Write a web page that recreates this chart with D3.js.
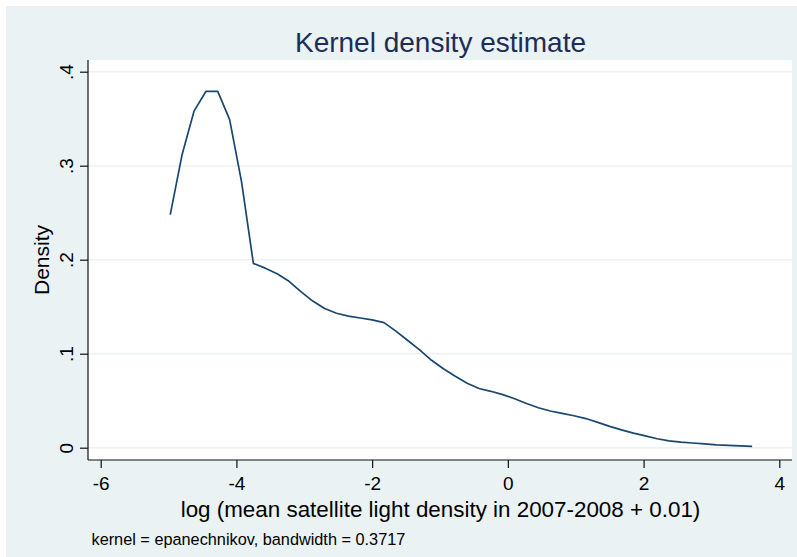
<!DOCTYPE html>
<html>
<head>
<meta charset="utf-8">
<script src="https://cdn.jsdelivr.net/npm/d3@7"></script>
<style>
  html, body { margin: 0; padding: 0; background: #ffffff; }
  svg { display: block; }
  text { font-family: "Liberation Sans", Arial, sans-serif; }
</style>
</head>
<body>
<svg id="chart" width="797" height="557"></svg>
<script>
// ---- data ----
const xValues = [
  -4.975, -4.800, -4.625, -4.450, -4.275, -4.100, -3.925, -3.750, -3.575, -3.400,
  -3.225, -3.050, -2.875, -2.700, -2.525, -2.350, -2.175, -2.000, -1.825, -1.650,
  -1.475, -1.300, -1.125, -0.950, -0.775, -0.600, -0.425, -0.250, -0.075, 0.100,
   0.275,  0.450,  0.625,  0.800,  0.975,  1.150,  1.325,  1.500,  1.675, 1.850,
   2.025,  2.200,  2.375,  2.550,  2.725,  2.900,  3.075,  3.250,  3.425, 3.600
];
const densityValues = [
  0.248, 0.312, 0.358, 0.379, 0.379, 0.349, 0.283, 0.196, 0.191, 0.185,
  0.177, 0.166, 0.156, 0.148, 0.143, 0.140, 0.138, 0.136, 0.133, 0.124,
  0.114, 0.104, 0.093, 0.084, 0.076, 0.0685, 0.063, 0.060, 0.0565, 0.052,
  0.047, 0.0425, 0.039, 0.0365, 0.034, 0.031, 0.027, 0.0227, 0.019, 0.0155,
  0.0125, 0.0095, 0.0073, 0.006, 0.005, 0.004, 0.0031, 0.0025, 0.0019, 0.0015
];
const xTicks = [-6, -4, -2, 0, 2, 4];
const xTickLabels = ["-6", "-4", "-2", "0", "2", "4"];
const yTicks = [0, 0.1, 0.2, 0.3, 0.4];
const yTickLabels = ["0", ".1", ".2", ".3", ".4"];
const titleText = "Kernel density estimate";
const xTitle = "log (mean satellite light density in 2007-2008 + 0.01)";
const yTitle = "Density";
const noteText = "kernel = epanechnikov, bandwidth = 0.3717";

// ---- layout ----
const svg = d3.select("#chart");
const bg = "#eaf2f3";
const plot = { left: 88, top: 60, right: 792, bottom: 460 };

svg.append("rect").attr("x", 6).attr("y", 6).attr("width", 791).attr("height", 551).attr("fill", bg);
svg.append("rect").attr("x", plot.left).attr("y", plot.top)
  .attr("width", plot.right - plot.left).attr("height", plot.bottom - plot.top).attr("fill", "#ffffff");

const x = d3.scaleLinear().domain([-6, 4]).range([100.7, 779.3]);
const y = d3.scaleLinear().domain([0, 0.4]).range([447.7, 71.7]);

// gridlines
svg.append("g").selectAll("line").data(yTicks).join("line")
  .attr("x1", plot.left).attr("x2", plot.right)
  .attr("y1", d => y(d)).attr("y2", d => y(d))
  .attr("stroke", bg).attr("stroke-width", 1.6);

// curve
const pts = xValues.map((v, i) => [v, densityValues[i]]);
svg.append("path").datum(pts)
  .attr("d", d3.line().x(d => x(d[0])).y(d => y(d[1])))
  .attr("fill", "none").attr("stroke", "#1a476f").attr("stroke-width", 1.7)
  .attr("stroke-linejoin", "round");

// y axis
const yAxis = d3.axisLeft(y).tickValues(yTicks).tickFormat((d, i) => yTickLabels[i]).tickSize(8).tickPadding(0);
const gy = svg.append("g").attr("transform", `translate(${plot.left},0)`).call(yAxis);
gy.select(".domain").attr("d", `M0,${plot.top}V${plot.bottom}`).attr("stroke", "#111").attr("stroke-width", 1.2);
gy.selectAll(".tick line").attr("stroke", "#111").attr("stroke-width", 1.2);
gy.selectAll(".tick text")
  .attr("x", null).attr("dy", null)
  .attr("transform", "translate(-15.5,0) rotate(-90)")
  .attr("text-anchor", "middle")
  .attr("font-size", 19).attr("fill", "#000")
  .attr("font-family", "'Liberation Sans', Arial, sans-serif");

// x axis
const xAxis = d3.axisBottom(x).tickValues(xTicks).tickFormat((d, i) => xTickLabels[i]).tickSize(8).tickPadding(0);
const gx = svg.append("g").attr("transform", `translate(0,${plot.bottom})`).call(xAxis);
gx.select(".domain").attr("d", `M${plot.left},0H${plot.right}`).attr("stroke", "#111").attr("stroke-width", 1.2);
gx.selectAll(".tick line").attr("stroke", "#111").attr("stroke-width", 1.2);
gx.selectAll(".tick text")
  .attr("y", 30).attr("dy", null)
  .attr("font-size", 19).attr("fill", "#000")
  .attr("font-family", "'Liberation Sans', Arial, sans-serif");

// titles
svg.append("text").attr("x", 440.5).attr("y", 52).attr("text-anchor", "middle")
  .attr("font-size", 28).attr("fill", "#1c2d57").text(titleText);
svg.append("text").attr("x", 440.5).attr("y", 517).attr("text-anchor", "middle")
  .attr("font-size", 22.4).attr("fill", "#000").text(xTitle);
svg.append("text").attr("transform", "translate(49,260) rotate(-90)").attr("text-anchor", "middle")
  .attr("font-size", 21).attr("fill", "#000").text(yTitle);
svg.append("text").attr("x", 91.5).attr("y", 545)
  .attr("font-size", 16.3).attr("fill", "#000").text(noteText);
</script>
</body>
</html>
